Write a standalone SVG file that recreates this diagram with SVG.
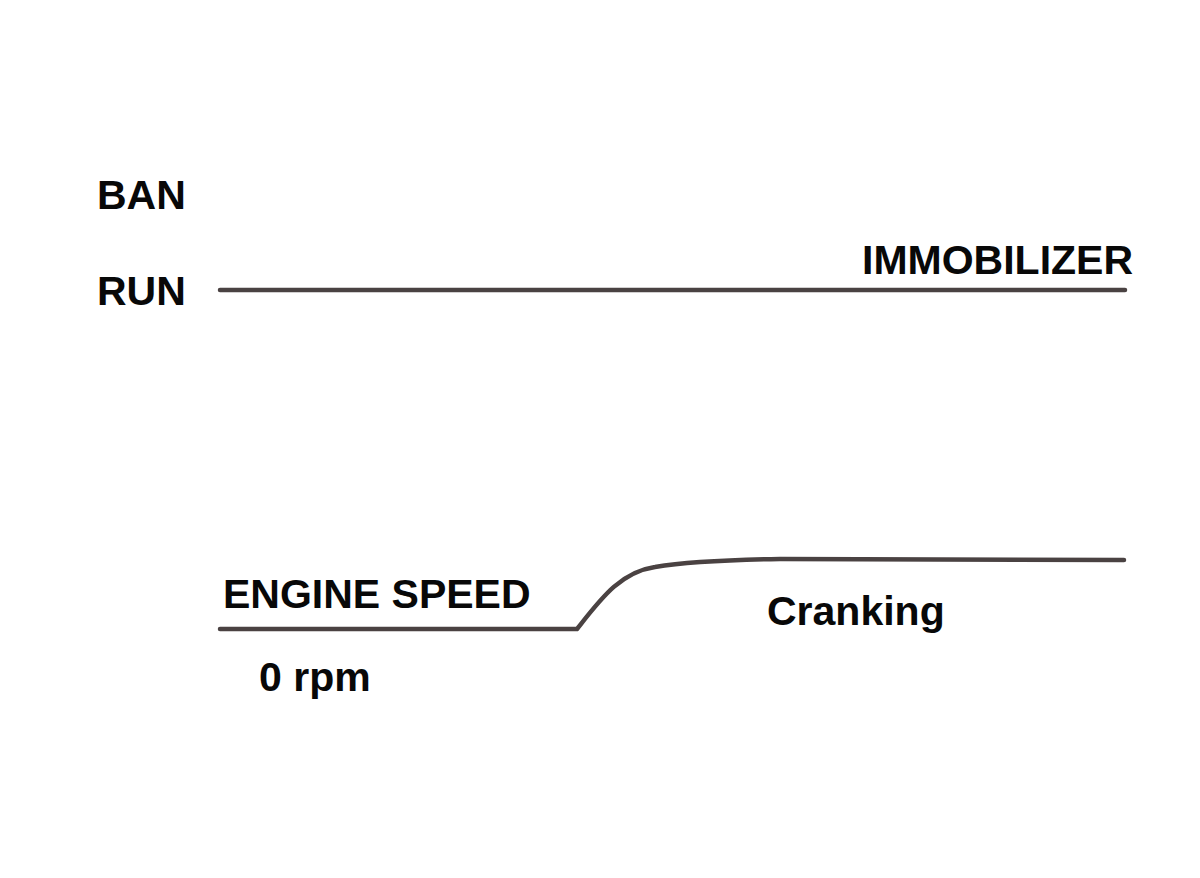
<svg xmlns="http://www.w3.org/2000/svg" width="1200" height="878" viewBox="0 0 1200 878">
<style>
.t{font-family:"Liberation Sans",Arial,sans-serif;font-weight:bold;font-size:41px;fill:#080808}
.ln{fill:none;stroke:#4a4242;stroke-width:4.5;stroke-linecap:round;stroke-linejoin:round}
</style>
<rect width="1200" height="878" fill="#fff"/>
<g id="labels">
<text class="t" x="97" y="209">BAN</text>
<text class="t" x="97" y="305">RUN</text>
<text class="t" x="862" y="274">IMMOBILIZER</text>
<text class="t" x="223" y="608">ENGINE SPEED</text>
<text class="t" x="259" y="691">0 rpm</text>
<text class="t" x="767" y="625">Cranking</text>
</g>
<g id="connectors">
<path id="immobilizer-line" class="ln" d="M220,290 L1125,290"/>
<path id="engine-speed-line" class="ln" d="M220,629 L577,629 C600,600 620,572 655,567 C685,562 720,560 780,559 L1124,560"/>
</g>
</svg>
